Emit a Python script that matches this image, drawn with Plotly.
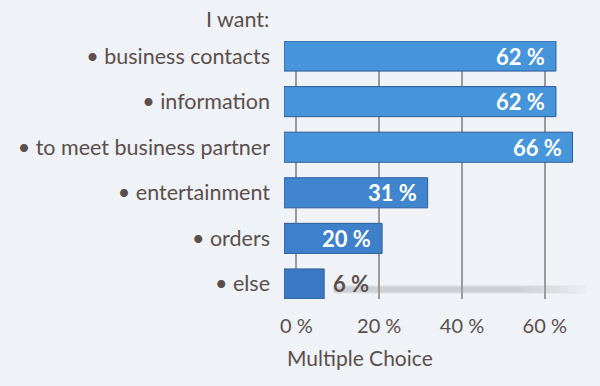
import plotly.graph_objects as go

categories = ["• business contacts", "• information", "• to meet business partner",
              "• entertainment", "• orders", "• else"]
values = [62, 62, 66, 31, 20, 6]
tick_vals = [0, 20, 40, 60]
tick_text = ["0 %", "20 %", "40 %", "60 %"]

FONT = "Lato"
TXT = "#5a4f4b"
BG = "#eff2f7"
DEPTH = 3.7  # bar starts left of 0 and has a 3D end cap

fig = go.Figure()
fig.add_trace(go.Bar(
    y=categories, x=[v + DEPTH for v in values], base=-3, orientation="h",
    width=0.66,
    marker=dict(color=values, colorscale=[[0, "#3a76c2"], [1, "#4796dc"]],
                cmin=0, cmax=66,
                line=dict(color="#2f5d98", width=1)),
    hoverinfo="skip",
))

# value labels
for c, v in zip(categories, values):
    if v >= 10:
        fig.add_annotation(x=v, y=c, text=f"<b>{v} %</b>", showarrow=False,
                           xanchor="right", xshift=-6,
                           font=dict(family=FONT, size=22, color="white"))
    else:
        fig.add_annotation(x=v, y=c, text=f"<b>{v} %</b>", showarrow=False,
                           xanchor="left", xshift=10,
                           font=dict(family=FONT, size=22, color=TXT))

# soft, fading shadow behind the last bar label
for i in range(8):
    x1 = 70 - i * 2.2
    fig.add_shape(type="line", xref="x", yref="y", x0=9, x1=x1, y0=5.12, y1=5.12,
                  line=dict(color="rgba(100,100,100,0.035)", width=9 - i * 0.6),
                  layer="below")

fig.add_annotation(xref="paper", yref="paper", x=0, y=1, xshift=-13, yshift=22,
                   xanchor="right", yanchor="middle", text="I want:",
                   showarrow=False, font=dict(family=FONT, size=21.5, color=TXT))
fig.add_annotation(xref="paper", yref="paper", x=0, y=0, xshift=1, yshift=-58,
                   xanchor="left", yanchor="middle", text="Multiple Choice",
                   showarrow=False, font=dict(family=FONT, size=21, color=TXT))

fig.update_layout(
    width=600, height=386,
    margin=dict(l=284, r=1, t=41, b=87),
    paper_bgcolor=BG, plot_bgcolor=BG,
    showlegend=False,
    xaxis=dict(range=[-3, 73.1], tickvals=tick_vals, ticktext=tick_text,
               showgrid=True, gridcolor="#9a9a9a", gridwidth=1.5,
               zeroline=False, showline=False, ticks="",
               ticklabelstandoff=13,
               tickfont=dict(family=FONT, size=20, color=TXT)),
    yaxis=dict(categoryorder="array", categoryarray=categories,
               range=[5.33, -0.33], showgrid=False, zeroline=False,
               showline=False, ticks="", ticklabelstandoff=13,
               tickfont=dict(family=FONT, size=21.5, color=TXT)),
)

fig.write_html("out.html", config={"displayModeBar": False},
               post_script="document.body.style.margin='0';document.body.style.background='%s';" % BG)
